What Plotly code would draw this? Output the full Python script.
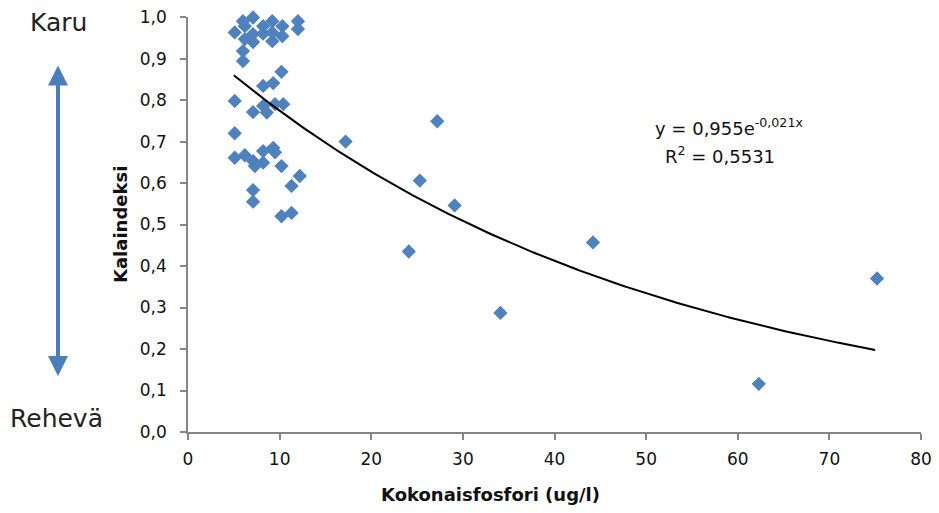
import numpy as np
import plotly.graph_objects as go

# Data
phosphorus = [5.1, 6.2, 6.0, 7.1, 7.1, 7.1, 8.2, 9.2, 9.2, 9.2, 10.3, 10.3, 6.2, 8.2, 12.0, 12.0, 6.0, 6.0,
              10.2, 8.2, 9.3, 5.1, 7.1, 8.2, 9.5, 10.4, 8.6,
              5.1, 5.1, 6.2, 7.1, 7.3, 8.2, 9.3, 9.5, 8.2, 10.2, 12.2, 11.3, 7.1, 7.1, 10.2, 11.3,
              17.2, 24.1, 25.3, 27.2, 29.1, 34.1, 44.2, 62.3, 75.2]
fish_index = [0.963, 0.978, 0.99, 0.999, 0.959, 0.94, 0.978, 0.99, 0.963, 0.942, 0.978, 0.954, 0.947, 0.96, 0.99, 0.971, 0.918, 0.894,
              0.868, 0.834, 0.841, 0.798, 0.771, 0.786, 0.79, 0.79, 0.77,
              0.72, 0.661, 0.667, 0.653, 0.641, 0.677, 0.685, 0.674, 0.649, 0.641, 0.617, 0.593, 0.583, 0.555, 0.52, 0.528,
              0.70, 0.435, 0.606, 0.749, 0.546, 0.287, 0.457, 0.116, 0.37]

# Exponential trendline shown in the chart
fit_a = 0.955
fit_b = -0.021
fit_x_start = 5
fit_x_end = 75

x_tick_vals = [0, 10, 20, 30, 40, 50, 60, 70, 80]
y_tick_vals = [0.0, 0.1, 0.2, 0.3, 0.4, 0.5, 0.6, 0.7, 0.8, 0.9, 1.0]
y_tick_text = ["0,0", "0,1", "0,2", "0,3", "0,4", "0,5", "0,6", "0,7", "0,8", "0,9", "1,0"]

x_title = "Kokonaisfosfori (ug/l)"
y_title = "Kalaindeksi"
top_label = "Karu"
bottom_label = "Rehevä"
eq_text = "y = 0,955e<sup>-0,021x</sup>"
r2_text = "R<sup>2</sup> = 0,5531"

fit_x = np.linspace(fit_x_start, fit_x_end, 300)
fit_y = fit_a * np.exp(fit_b * fit_x)

fig = go.Figure()
fig.add_trace(go.Scatter(
    x=phosphorus, y=fish_index, mode="markers",
    marker=dict(symbol="diamond", size=11, color="#4F81BD"),
    cliponaxis=False, showlegend=False, hoverinfo="x+y"))
fig.add_trace(go.Scatter(
    x=fit_x, y=fit_y, mode="lines",
    line=dict(color="black", width=2), showlegend=False, hoverinfo="skip"))

tick_font = dict(family="DejaVu Sans", size=17, color="#111111")
# plot area in page pixels: x 188..921, y 17..432 (page body adds 8px offset)
PL, PR, PT, PB = 188, 921, 17, 432
W, H = PR - PL, PB - PT


def px(xp):
    return (xp - PL) / W


def py(yp):
    return (PB - yp) / H


fig.update_layout(
    width=939, height=513,
    margin=dict(l=180, r=939 - 180 - W, t=9, b=513 - 9 - H, autoexpand=False),
    paper_bgcolor="white", plot_bgcolor="white",
    separators=", ",
    xaxis=dict(range=[0, 80], tickvals=x_tick_vals, showgrid=False, zeroline=False,
               showline=True, linecolor="#868686", linewidth=1.5,
               ticks="outside", ticklen=6, tickcolor="#868686", tickwidth=1.5,
               ticklabelstandoff=5, ticklabeloverflow="allow",
               tickfont=tick_font, automargin=False),
    yaxis=dict(range=[0, 1.0002], tickvals=y_tick_vals, ticktext=y_tick_text,
               showgrid=False, zeroline=False,
               showline=True, linecolor="#868686", linewidth=1.5,
               ticks="outside", ticklen=6, tickcolor="#868686", tickwidth=1.5,
               ticklabelstandoff=10, ticklabeloverflow="allow",
               tickfont=tick_font, automargin=False),
)

annos = [
    dict(text=x_title, xref="paper", yref="paper", x=px(490), y=py(494),
         xanchor="center", yanchor="middle", showarrow=False,
         font=dict(family="DejaVu Sans", size=18, color="#111111", weight="bold")),
    dict(text=y_title, xref="paper", yref="paper", x=px(121), y=py(225),
         xanchor="center", yanchor="middle", showarrow=False, textangle=-90,
         font=dict(family="DejaVu Sans", size=18, color="#111111", weight="bold")),
    dict(text=top_label, xref="paper", yref="paper", x=px(58), y=py(22),
         xanchor="center", yanchor="middle", showarrow=False,
         font=dict(family="DejaVu Sans", size=25, color="#222222")),
    dict(text=bottom_label, xref="paper", yref="paper", x=px(56), y=py(418),
         xanchor="center", yanchor="middle", showarrow=False,
         font=dict(family="DejaVu Sans", size=25, color="#222222")),
    dict(text=eq_text, xref="paper", yref="paper", x=px(729), y=py(127),
         xanchor="center", yanchor="middle",
         showarrow=False, font=dict(family="DejaVu Sans", size=18, color="#111111")),
    dict(text=r2_text, xref="paper", yref="paper", x=px(720), y=py(155),
         xanchor="center", yanchor="middle",
         showarrow=False, font=dict(family="DejaVu Sans", size=18, color="#111111")),
    dict(text="", xref="paper", yref="paper", x=px(58), y=py(376),
         ax=0, ay=-312, showarrow=True, arrowhead=2, startarrowhead=2, arrowside="end+start",
         arrowsize=1, startarrowsize=1, arrowwidth=4, arrowcolor="#4A7EBB"),
]
fig.update_layout(annotations=annos)

fig.write_html("out.html")
